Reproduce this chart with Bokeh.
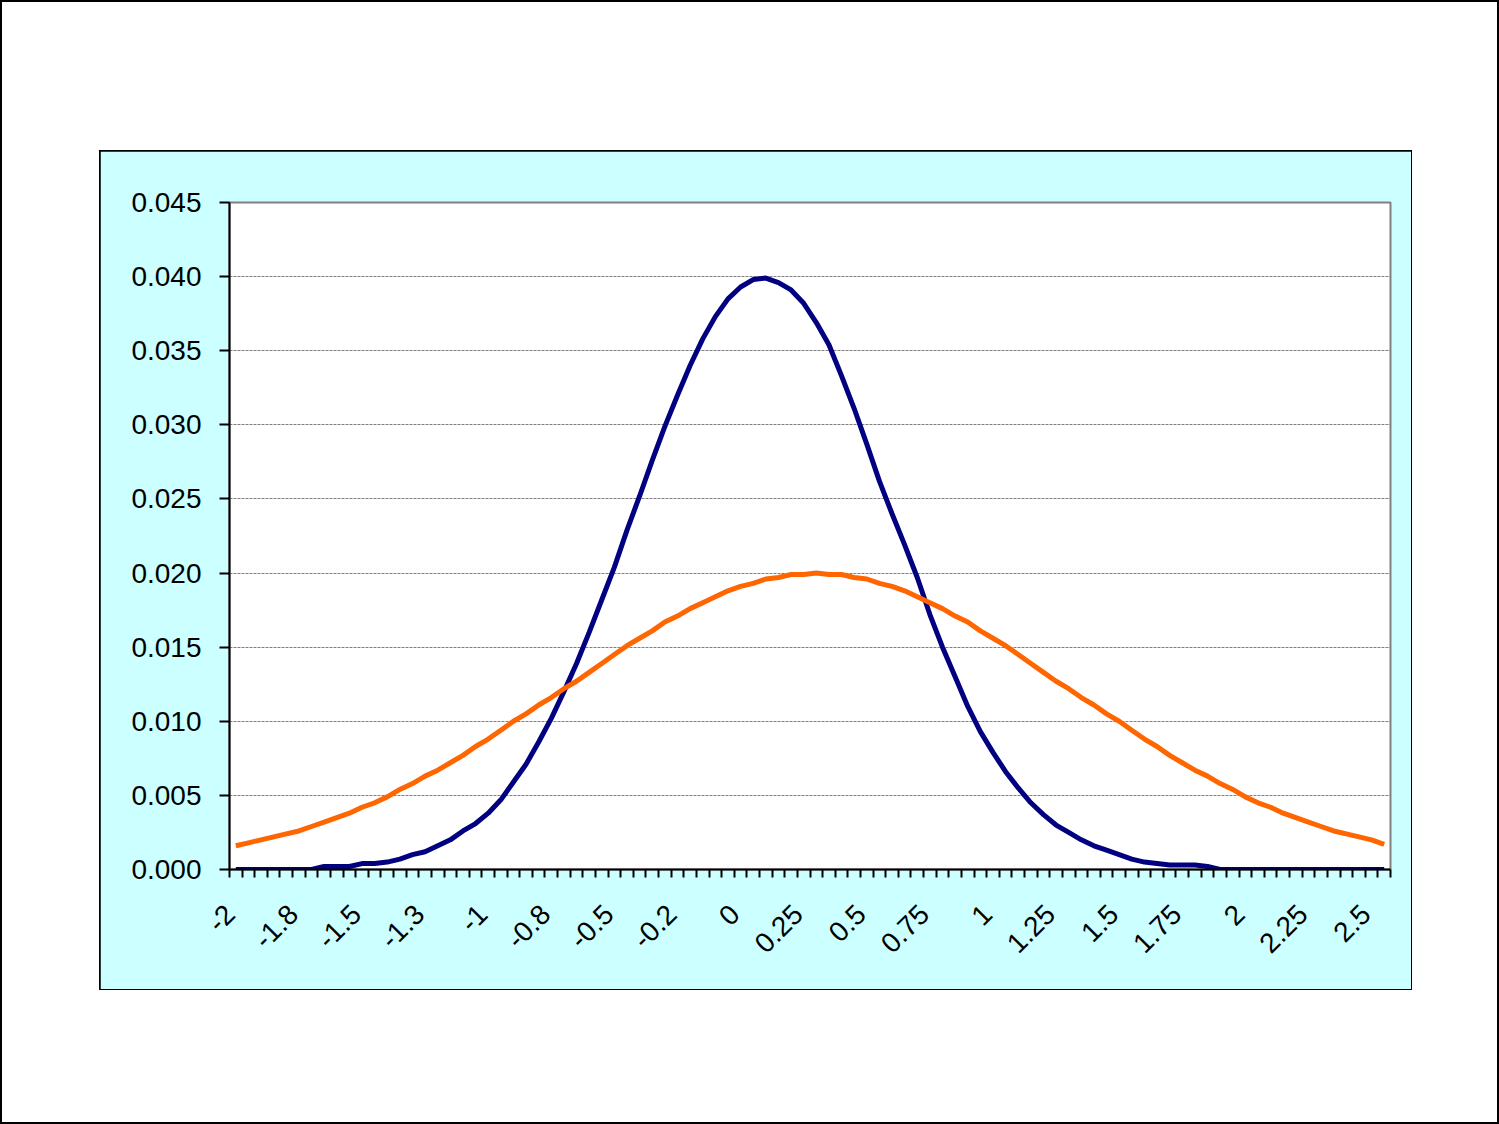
from bokeh.plotting import figure
from bokeh.models import FixedTicker, Range1d, InlineStyleSheet
from bokeh.layouts import column
from bokeh.embed import file_html
from bokeh.resources import INLINE

# ---- data ----
categories = [
    "-2", "-1.95", "-1.9", "-1.85", "-1.8", "-1.75", "-1.7", "-1.65", "-1.6", "-1.55",
    "-1.5", "-1.45", "-1.4", "-1.35", "-1.3", "-1.25", "-1.2", "-1.15", "-1.1", "-1.05",
    "-1", "-0.95", "-0.9", "-0.85", "-0.8", "-0.75", "-0.7", "-0.65", "-0.6", "-0.55",
    "-0.5", "-0.45", "-0.4", "-0.35", "-0.3", "-0.25", "-0.2", "-0.15", "-0.1", "-0.05",
    "0", "0.05", "0.1", "0.15", "0.2", "0.25", "0.3", "0.35", "0.4", "0.45",
    "0.5", "0.55", "0.6", "0.65", "0.7", "0.75", "0.8", "0.85", "0.9", "0.95",
    "1", "1.05", "1.1", "1.15", "1.2", "1.25", "1.3", "1.35", "1.4", "1.45",
    "1.5", "1.55", "1.6", "1.65", "1.7", "1.75", "1.8", "1.85", "1.9", "1.95",
    "2", "2.05", "2.1", "2.15", "2.2", "2.25", "2.3", "2.35", "2.4", "2.45",
    "2.5", "2.55",
]

series_blue = [
    0.0000, 0.0000, 0.0000, 0.0000, 0.0000, 0.0000, 0.0000, 0.0002, 0.0002, 0.0002,
    0.0004, 0.0004, 0.0005, 0.0007, 0.0010, 0.0012, 0.0016, 0.0020, 0.0026, 0.0031,
    0.0038, 0.0047, 0.0059, 0.0071, 0.0086, 0.0102, 0.0120, 0.0139, 0.0160, 0.0182,
    0.0204, 0.0229, 0.0252, 0.0276, 0.0299, 0.0320, 0.0340, 0.0358, 0.0373, 0.0385,
    0.0393, 0.0398, 0.0399, 0.0396, 0.0391, 0.0382, 0.0369, 0.0354, 0.0333, 0.0311,
    0.0287, 0.0262, 0.0240, 0.0219, 0.0197, 0.0172, 0.0150, 0.0130, 0.0110, 0.0093,
    0.0079, 0.0066, 0.0055, 0.0045, 0.0037, 0.0030, 0.0025, 0.0020, 0.0016, 0.0013,
    0.0010, 0.0007, 0.0005, 0.0004, 0.0003, 0.0003, 0.0003, 0.0002, 0.0000, 0.0000,
    0.0000, 0.0000, 0.0000, 0.0000, 0.0000, 0.0000, 0.0000, 0.0000, 0.0000, 0.0000,
    0.0000, 0.0000,
]

series_orange = [
    0.0016, 0.0018, 0.0020, 0.0022, 0.0024, 0.0026, 0.0029, 0.0032, 0.0035, 0.0038,
    0.0042, 0.0045, 0.0049, 0.0054, 0.0058, 0.0063, 0.0067, 0.0072, 0.0077, 0.0083,
    0.0088, 0.0094, 0.0100, 0.0105, 0.0111, 0.0116, 0.0122, 0.0127, 0.0133, 0.0139,
    0.0145, 0.0151, 0.0156, 0.0161, 0.0167, 0.0171, 0.0176, 0.0180, 0.0184, 0.0188,
    0.0191, 0.0193, 0.0196, 0.0197, 0.0199, 0.0199, 0.0200, 0.0199, 0.0199, 0.0197,
    0.0196, 0.0193, 0.0191, 0.0188, 0.0184, 0.0180, 0.0176, 0.0171, 0.0167, 0.0161,
    0.0156, 0.0151, 0.0145, 0.0139, 0.0133, 0.0127, 0.0122, 0.0116, 0.0111, 0.0105,
    0.0100, 0.0094, 0.0088, 0.0083, 0.0077, 0.0072, 0.0067, 0.0063, 0.0058, 0.0054,
    0.0049, 0.0045, 0.0042, 0.0038, 0.0035, 0.0032, 0.0029, 0.0026, 0.0024, 0.0022,
    0.0020, 0.0017,
]

x_tick_labels = ["-2", "-1.8", "-1.5", "-1.3", "-1", "-0.8", "-0.5", "-0.2", "0", "0.25",
                 "0.5", "0.75", "1", "1.25", "1.5", "1.75", "2", "2.25", "2.5"]
label_every = 5

y_ticks = [0.000, 0.005, 0.010, 0.015, 0.020, 0.025, 0.030, 0.035, 0.040, 0.045]
y_tick_labels = ["0.000", "0.005", "0.010", "0.015", "0.020", "0.025", "0.030",
                 "0.035", "0.040", "0.045"]

# ---- figure ----
n = len(categories)
xpos = [i + 0.5 for i in range(n)]

FONT = "Liberation Sans"

p = figure(width=1311, height=838, output_backend="svg", toolbar_location=None,
           x_range=Range1d(0, n), y_range=Range1d(0, 0.045),
           min_border_left=129, min_border_right=21, min_border_top=51,
           min_border_bottom=120)
p.margin = (151, 0, 0, 100)
p.border_fill_color = "#CCFFFF"
p.background_fill_color = "white"
p.outline_line_color = "#808080"
p.outline_line_width = 2
p.stylesheets = [InlineStyleSheet(css=":host { outline: 2px solid black; outline-offset: -1px; }")]

# x axis: tick marks between categories, a label every 5th category
label_shift = 0.45  # Excel-style anchoring of rotated labels
label_pos = [i * label_every + 0.5 - label_shift for i in range(len(x_tick_labels))]
p.xaxis.ticker = FixedTicker(ticks=label_pos, minor_ticks=list(range(n + 1)))
p.xaxis.major_label_overrides = {pos: lab for pos, lab in zip(label_pos, x_tick_labels)}
p.xaxis.major_tick_in = 0
p.xaxis.major_tick_out = 0
p.xaxis.minor_tick_in = 0
p.xaxis.minor_tick_out = 8
p.xaxis.minor_tick_line_color = "black"
p.xaxis.minor_tick_line_width = 2
p.xaxis.axis_line_color = "black"
p.xaxis.axis_line_width = 2
p.xaxis.major_label_orientation = 0.785398
p.xaxis.major_label_standoff = 32
p.xaxis.major_label_text_font = FONT
p.xaxis.major_label_text_font_size = "28px"
p.xaxis.major_label_text_color = "black"

# y axis
p.yaxis.ticker = FixedTicker(ticks=y_ticks)
p.yaxis.major_label_overrides = {t: lab for t, lab in zip(y_ticks, y_tick_labels)}
p.yaxis.major_tick_in = 0
p.yaxis.major_tick_out = 10
p.yaxis.major_tick_line_width = 2
p.yaxis.minor_tick_line_color = None
p.yaxis.axis_line_color = "black"
p.yaxis.axis_line_width = 2
p.yaxis.major_label_standoff = 18
p.yaxis.major_label_text_font = FONT
p.yaxis.major_label_text_font_size = "28px"
p.yaxis.major_label_text_color = "black"

p.xgrid.visible = False
p.ygrid.grid_line_color = "#808080"
p.ygrid.grid_line_width = 1
p.ygrid.grid_line_dash = "3 1"

p.line(xpos, series_blue, line_color="#000080", line_width=5)
p.line(xpos, series_orange, line_color="#FF6600", line_width=5)

page = column(p, width=1499, height=1124)
page.stylesheets = [InlineStyleSheet(css=":host { outline: 2px solid black; outline-offset: -2px; background: white; }")]

open("out.html", "w").write(file_html(page, INLINE))
